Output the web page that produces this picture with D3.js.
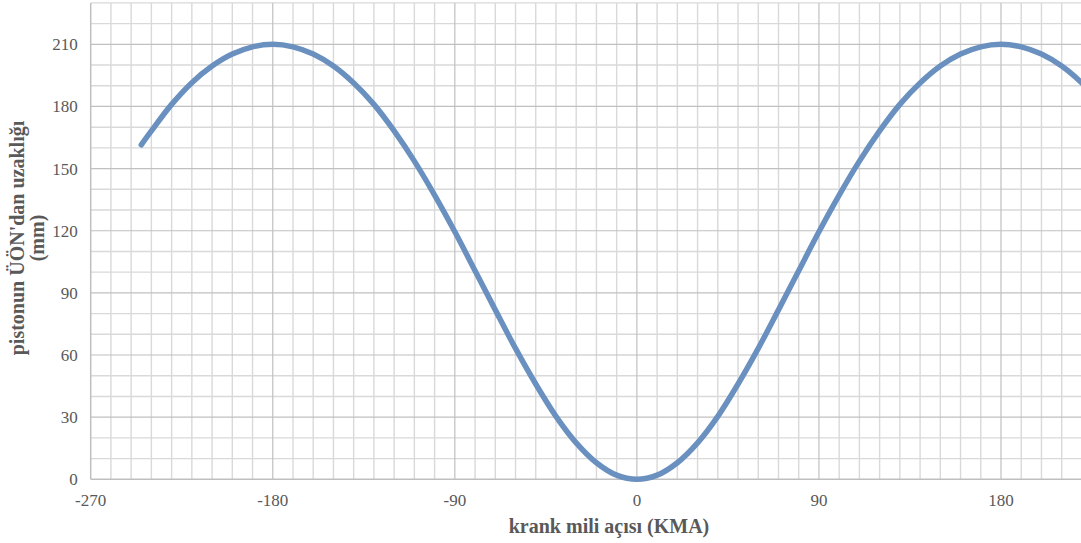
<!DOCTYPE html>
<html>
<head>
<meta charset="utf-8">
<script src="https://cdn.jsdelivr.net/npm/d3@7"></script>
<style>
  body { margin: 0; background: #fff; }
  svg { display: block; }
  .tick-label { font-family: "Liberation Serif", "Times New Roman", serif; font-size: 17px; fill: #595959; }
  .axis-title { font-family: "Liberation Serif", "Times New Roman", serif; font-size: 20px; font-weight: bold; fill: #595959; }
</style>
</head>
<body>
<svg id="chart" width="1081" height="543"></svg>
<script>
// crank angle (degrees) and piston distance from TDC (mm)
var angles = [-245, -240, -230, -220, -210, -200, -190, -180, -170, -160, -150, -140, -130, -120, -110, -100,
              -90, -80, -70, -60, -50, -40, -30, -20, -10, 0, 10, 20, 30, 40, 50, 60, 70, 80,
              90, 100, 110, 120, 130, 140, 150, 160, 170, 180, 190, 200, 210, 220, 230];
var distances = [161.5, 168.2, 181, 191.5, 199.5, 205.3, 208.8, 210, 208.8, 205.3, 199.5, 191.3, 181, 168.2, 153.6, 137.2,
                 119.5, 100.7, 81.8, 63.2, 46, 30.4, 17.6, 8, 2, 0, 2, 8, 17.6, 30.4, 46, 63.2, 81.8, 100.7,
                 119.5, 137.2, 153.6, 168.2, 181, 191.3, 199.5, 205.3, 208.8, 210, 208.8, 205.3, 199.5, 191.3, 181];
var xTicks = [-270, -180, -90, 0, 90, 180];
var yTicks = [0, 30, 60, 90, 120, 150, 180, 210];
var xTitle = "krank mili açısı (KMA)";
var yTitle = ["pistonun ÜÖN'dan uzaklığı", "(mm)"];

var svg = d3.select("#chart");
var x0 = 90.7, pxPerDeg = 2.0229;
var x = d3.scaleLinear().domain([-270, 270]).range([x0, x0 + 540 * pxPerDeg]);
var y = d3.scaleLinear().domain([0, 230]).range([479.3, 2.9]);

var grid = svg.append("g").attr("class", "grid");
// minor grid every 10
grid.selectAll(".minor-x")
    .data(d3.range(-260, 271, 10).filter(function(d){ return d % 90 != 0; }))
    .enter().append("line")
    .attr("x1", function(d){ return x(d); }).attr("x2", function(d){ return x(d); })
    .attr("y1", y(0)).attr("y2", y(230))
    .attr("stroke", "#d9d9d9").attr("stroke-width", 1.4);
grid.selectAll(".minor-y")
    .data(d3.range(10, 231, 10).filter(function(d){ return d % 30 != 0; }))
    .enter().append("line")
    .attr("x1", x(-270)).attr("x2", x(270))
    .attr("y1", function(d){ return y(d); }).attr("y2", function(d){ return y(d); })
    .attr("stroke", "#d9d9d9").attr("stroke-width", 1.4);
// major grid
grid.selectAll(".major-x")
    .data(xTicks.slice(1))
    .enter().append("line")
    .attr("x1", function(d){ return x(d); }).attr("x2", function(d){ return x(d); })
    .attr("y1", y(0)).attr("y2", y(230))
    .attr("stroke", "#c0c0c0").attr("stroke-width", 1.2);
grid.selectAll(".major-y")
    .data(yTicks.slice(1))
    .enter().append("line")
    .attr("x1", x(-270)).attr("x2", x(270))
    .attr("y1", function(d){ return y(d); }).attr("y2", function(d){ return y(d); })
    .attr("stroke", "#c0c0c0").attr("stroke-width", 1.2);

// axis lines
svg.append("line")
    .attr("x1", x(-270)).attr("x2", x(270)).attr("y1", y(0)).attr("y2", y(0))
    .attr("stroke", "#bfbfbf").attr("stroke-width", 1.5);
svg.append("line")
    .attr("x1", x(-270)).attr("x2", x(-270)).attr("y1", y(0)).attr("y2", y(230))
    .attr("stroke", "#bfbfbf").attr("stroke-width", 1.5);

// tick labels
svg.selectAll(".ylab")
    .data(yTicks)
    .enter().append("text")
    .attr("class", "tick-label")
    .attr("text-anchor", "end")
    .attr("x", x0 - 13)
    .attr("y", function(d){ return y(d) + 6; })
    .text(function(d){ return d; });
svg.selectAll(".xlab")
    .data(xTicks)
    .enter().append("text")
    .attr("class", "tick-label")
    .attr("text-anchor", "middle")
    .attr("x", function(d){ return x(d); })
    .attr("y", 506)
    .text(function(d){ return d; });

// titles
svg.append("text")
    .attr("class", "axis-title")
    .attr("text-anchor", "middle")
    .attr("x", 609).attr("y", 533)
    .text(xTitle);
svg.selectAll(".ytitle")
    .data(yTitle)
    .enter().append("text")
    .attr("class", "axis-title")
    .attr("text-anchor", "middle")
    .attr("transform", function(d, i){ return "translate(" + (24 + i * 20) + ",238) rotate(-90)"; })
    .text(function(d){ return d; });

// the curve
var pts = angles.map(function(a, i){ return {a: a, v: distances[i]}; });
var line = d3.line()
    .x(function(d){ return x(d.a); })
    .y(function(d){ return y(d.v); })
    .curve(d3.curveCatmullRom);
svg.append("path")
    .datum(pts)
    .attr("fill", "none")
    .attr("stroke", "#6990bf")
    .attr("stroke-width", 5.5)
    .attr("stroke-linecap", "round")
    .attr("d", line);
</script>
</body>
</html>
